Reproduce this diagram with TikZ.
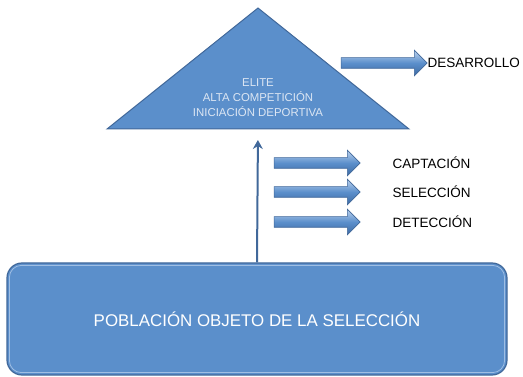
\documentclass[tikz,border=0pt]{standalone}
\usepackage{fontspec}
\setmainfont{Liberation Sans}
\usetikzlibrary{shapes.arrows,arrows.meta}
\definecolor{azul}{HTML}{5B8FCB}
\definecolor{azulborde}{HTML}{41689A}
\definecolor{azulclaro}{HTML}{BCD2EE}
\definecolor{azuloscuro}{HTML}{3E6AA3}
\definecolor{textoclaro}{HTML}{DCE6F3}

\begin{document}
\begin{tikzpicture}[x=1pt, y=-1pt,
    flecha/.style={single arrow, draw=azulborde, line width=0.6pt,
      top color=azulclaro, bottom color=azuloscuro, middle color=azul,
      minimum height=86pt, minimum width=0pt, text height=5pt, text depth=5pt,
      single arrow head extend=7.5pt, inner sep=0pt},
    etiqueta/.style={anchor=west, font=\fontsize{13.5}{16}\selectfont}]
  \useasboundingbox (0,0) rectangle (523,377);

  % Piramide
  \draw[fill=azul, draw=azulborde, line width=1pt] (258,8) -- (409,129) -- (107,129) -- cycle;
  \coordinate (base) at (258,129);
  \node[align=center, text=textoclaro, font=\fontsize{11.4}{15}\selectfont] (niveles) at (258,98)
    {ELITE\\ALTA COMPETICIÓN\\INICIACIÓN DEPORTIVA};

  % Poblacion
  \node[draw=azulborde, line width=1.2pt, fill=azul, rounded corners=15pt,
    minimum width=500pt, minimum height=112pt, text=white,
    font=\fontsize{16.9}{20}\selectfont] (poblacion) at (257,319)
    {POBLACIÓN OBJETO DE LA SELECCIÓN};
  \draw[azulclaro!70!azul, line width=0.8pt, rounded corners=12pt]
    ([shift={(3,-3)}]poblacion.south west) rectangle ([shift={(-3,3)}]poblacion.north east);
  \draw[azulborde, line width=2pt, -{Stealth[length=9pt, width=10pt]}, shorten >=11pt]
    (poblacion.north) -- (base);

  % Flechas
  \node[flecha] (fdesarrollo) at (381.5,63) {};
  \node[flecha] (fcaptacion) at (314.5,163) {};
  \node[flecha] (fseleccion) at (314.5,192) {};
  \node[flecha] (fdeteccion) at (314.5,222) {};

  \node[etiqueta] (desarrollo) at (424,63) {DESARROLLO};
  \node[etiqueta] (captacion) at (389,163) {CAPTACIÓN};
  \node[etiqueta] (seleccion) at (389,192) {SELECCIÓN};
  \node[etiqueta] (deteccion) at (389,222) {DETECCIÓN};
\end{tikzpicture}
\end{document}
